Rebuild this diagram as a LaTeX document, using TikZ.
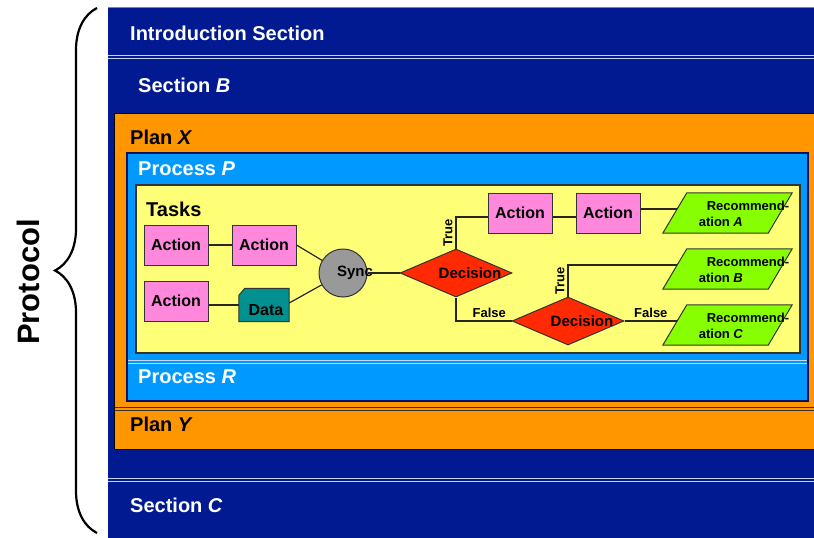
\documentclass[tikz,border=0pt]{standalone}
\usepackage{fontspec}
\setmainfont{Liberation Sans}
\usetikzlibrary{shapes.geometric,decorations.pathreplacing}
\definecolor{sectionblue}{RGB}{2,26,145}
\definecolor{planorange}{RGB}{255,150,0}
\definecolor{processblue}{RGB}{0,153,255}
\definecolor{taskyellow}{RGB}{255,255,119}
\definecolor{actionpink}{RGB}{255,136,221}
\definecolor{datateal}{RGB}{0,144,144}
\definecolor{syncgray}{RGB}{153,153,153}
\definecolor{decisionred}{RGB}{255,42,0}
\definecolor{recgreen}{RGB}{136,255,0}
\definecolor{sepwhite}{RGB}{205,212,240}
\tikzset{
  heading/.style={anchor=west, inner sep=0pt, font=\fontsize{20}{24}\selectfont\bfseries},
  separator/.style={draw=#1, line width=1pt, double distance=1.3pt},
  conn/.style={draw=black!85, line width=1.2pt},
  action/.style={draw=black!80, line width=1pt, fill=actionpink, minimum width=64pt, minimum height=40pt, inner sep=0pt, font=\fontsize{16}{18}\selectfont\bfseries},
  databody/.style={rectangle, minimum width=50pt, minimum height=33pt, inner sep=0pt},
  datafill/.style={draw=black!80, line width=1pt, fill=datateal},
  datatext/.style={inner sep=0pt, font=\fontsize{16}{18}\selectfont\bfseries},
  syncnode/.style={circle, draw=black!80, line width=1pt, fill=syncgray, minimum size=48pt, inner sep=0pt},
  decision/.style={diamond, draw=black!80, line width=1pt, fill=decisionred, minimum width=112pt, minimum height=48pt, inner sep=0pt},
  recbody/.style={rectangle, minimum width=105pt, minimum height=40pt, inner sep=0pt},
  recfill/.style={draw=black!80, line width=1pt, fill=recgreen},
  shapetext/.style={inner sep=0pt, font=\fontsize{15}{18}\selectfont\bfseries, xshift=#1},
  rectext/.style={inner sep=0pt, align=left, font=\fontsize{13}{16}\selectfont\bfseries},
  branch/.style={inner sep=3pt, font=\fontsize{13}{15}\selectfont\bfseries},
}

\begin{document}
\begin{tikzpicture}[x=1pt, y=-1pt]
\clip (0,0) rectangle (814,538);

% sections
\fill[sectionblue] (108,7) rectangle (830,545);
\draw[sectionblue!55!white, line width=0.8pt] (108,7) -- (830,7);
\node[heading, text=white] (intro) at (130,33) {Introduction Section};
\draw[separator=sepwhite, double=sectionblue] (108,57) -- (830,57);
\node[heading, text=white] (secB) at (138,85) {Section \textit{B}};

% plans
\filldraw[fill=planorange, draw=black, line width=1pt] (114,113) rectangle (840,449);
\node[heading] (planX) at (130,137) {Plan \textit{X}};

% processes
\filldraw[fill=processblue, draw=sectionblue!70!black, line width=1.4pt] (127,153) rectangle (808,401);
\node[heading, text=white] (procP) at (138,169) {Process \textit{P}};

% tasks
\filldraw[fill=taskyellow, draw=black!80, line width=1.4pt] (136,185) rectangle (800,353);
\node[heading] (tasks) at (146,209) {Tasks};

\draw[separator=sepwhite, double=processblue] (128,362) -- (807,362);
\node[heading, text=white] (procR) at (138,377) {Process \textit{R}};
\draw[separator=black!80, double=planorange] (115,409) -- (840,409);
\node[heading] (planY) at (130,424) {Plan \textit{Y}};
\draw[separator=sepwhite, double=sectionblue] (108,480) -- (830,480);
\node[heading, text=white] (secC) at (130,505) {Section \textit{C}};

% task graph
\node[action] (act1) at (176,245) {Action};
\node[action] (act2) at (264,245) {Action};
\node[action] (act3) at (176,301) {Action};
\node[databody] (dat) at (264,305) {};
\filldraw[datafill] ([yshift=-7pt]dat.north west) -- ([xshift=6pt]dat.north west) -- (dat.north east) -- (dat.south east) -- (dat.south west) -- cycle;
\node[datatext] (dattext) at ([xshift=2pt,yshift=-5pt]dat.center) {Data};
\node[syncnode, label={[shapetext=12pt]center:Sync}] (sync) at (343,273) {};
\node[decision, label={[shapetext=14pt]center:Decision}] (dec1) at (456,273) {};
\node[action] (act4) at (520,213) {Action};
\node[action] (act5) at (608,213) {Action};
\node[decision, label={[shapetext=14pt]center:Decision}] (dec2) at (568,321) {};
\node[recbody] (recA) at (727.5,213) {};
\node[recbody] (recB) at (727.5,269) {};
\node[recbody] (recC) at (727.5,325) {};

% recommendations (slanted)
\filldraw[recfill] ([xshift=-12pt]recA.south west) -- ([xshift=12pt]recA.north west) -- ([xshift=12pt]recA.north east) -- ([xshift=-12pt]recA.south east) -- cycle;
\filldraw[recfill] ([xshift=-12pt]recB.south west) -- ([xshift=12pt]recB.north west) -- ([xshift=12pt]recB.north east) -- ([xshift=-12pt]recB.south east) -- cycle;
\filldraw[recfill] ([xshift=-12pt]recC.south west) -- ([xshift=12pt]recC.north west) -- ([xshift=12pt]recC.north east) -- ([xshift=-12pt]recC.south east) -- cycle;
\node[rectext] (recAtext) at ([xshift=16.5pt,yshift=-1pt]recA.center) {\hspace*{8pt}Recommend-\\ation \textit{A}};
\node[rectext] (recBtext) at ([xshift=16.5pt,yshift=-1pt]recB.center) {\hspace*{8pt}Recommend-\\ation \textit{B}};
\node[rectext] (recCtext) at ([xshift=16.5pt,yshift=-1pt]recC.center) {\hspace*{8pt}Recommend-\\ation \textit{C}};
\coordinate (inA) at ([xshift=2.4pt,yshift=4pt]recA.west);
\coordinate (inB) at ([xshift=2.4pt,yshift=4pt]recB.west);
\coordinate (inC) at ([xshift=2.4pt,yshift=4pt]recC.west);

\draw[conn] (act1) -- (act2);
\draw[conn] (act3.east |- dat) -- (dat);
\draw[conn] (act2.east) -- (sync);
\draw[conn] ([yshift=2pt]dat.east) -- (sync);
\draw[conn] (sync) -- (dec1);
\draw[conn] (dec1.north) |- node[branch, rotate=90, pos=0.25, anchor=south] (true1) {True} ([yshift=-4pt]act4.west);
\draw[conn] ([yshift=-4pt]act4.east) -- ([yshift=-4pt]act5.west);
\draw[conn] (act5.east |- inA) -- (inA);
\draw[conn] (dec1.south) |- node[branch, pos=0.8, anchor=south] (false1) {False} (dec2);
\draw[conn] (dec2.north) |- node[branch, rotate=90, pos=0.25, anchor=south] (true2) {True} (inB);
\draw[conn] (dec2.east) -- node[branch, anchor=south] (false2) {False} (inC);

% protocol brace
\draw[line width=2.2pt, decorate, decoration={brace, amplitude=42pt}] (97,533) -- (97,8);
\node[rotate=90, font=\fontsize{31}{36}\selectfont\bfseries] (protocol) at (28,282) {Protocol};

\end{tikzpicture}
\end{document}
